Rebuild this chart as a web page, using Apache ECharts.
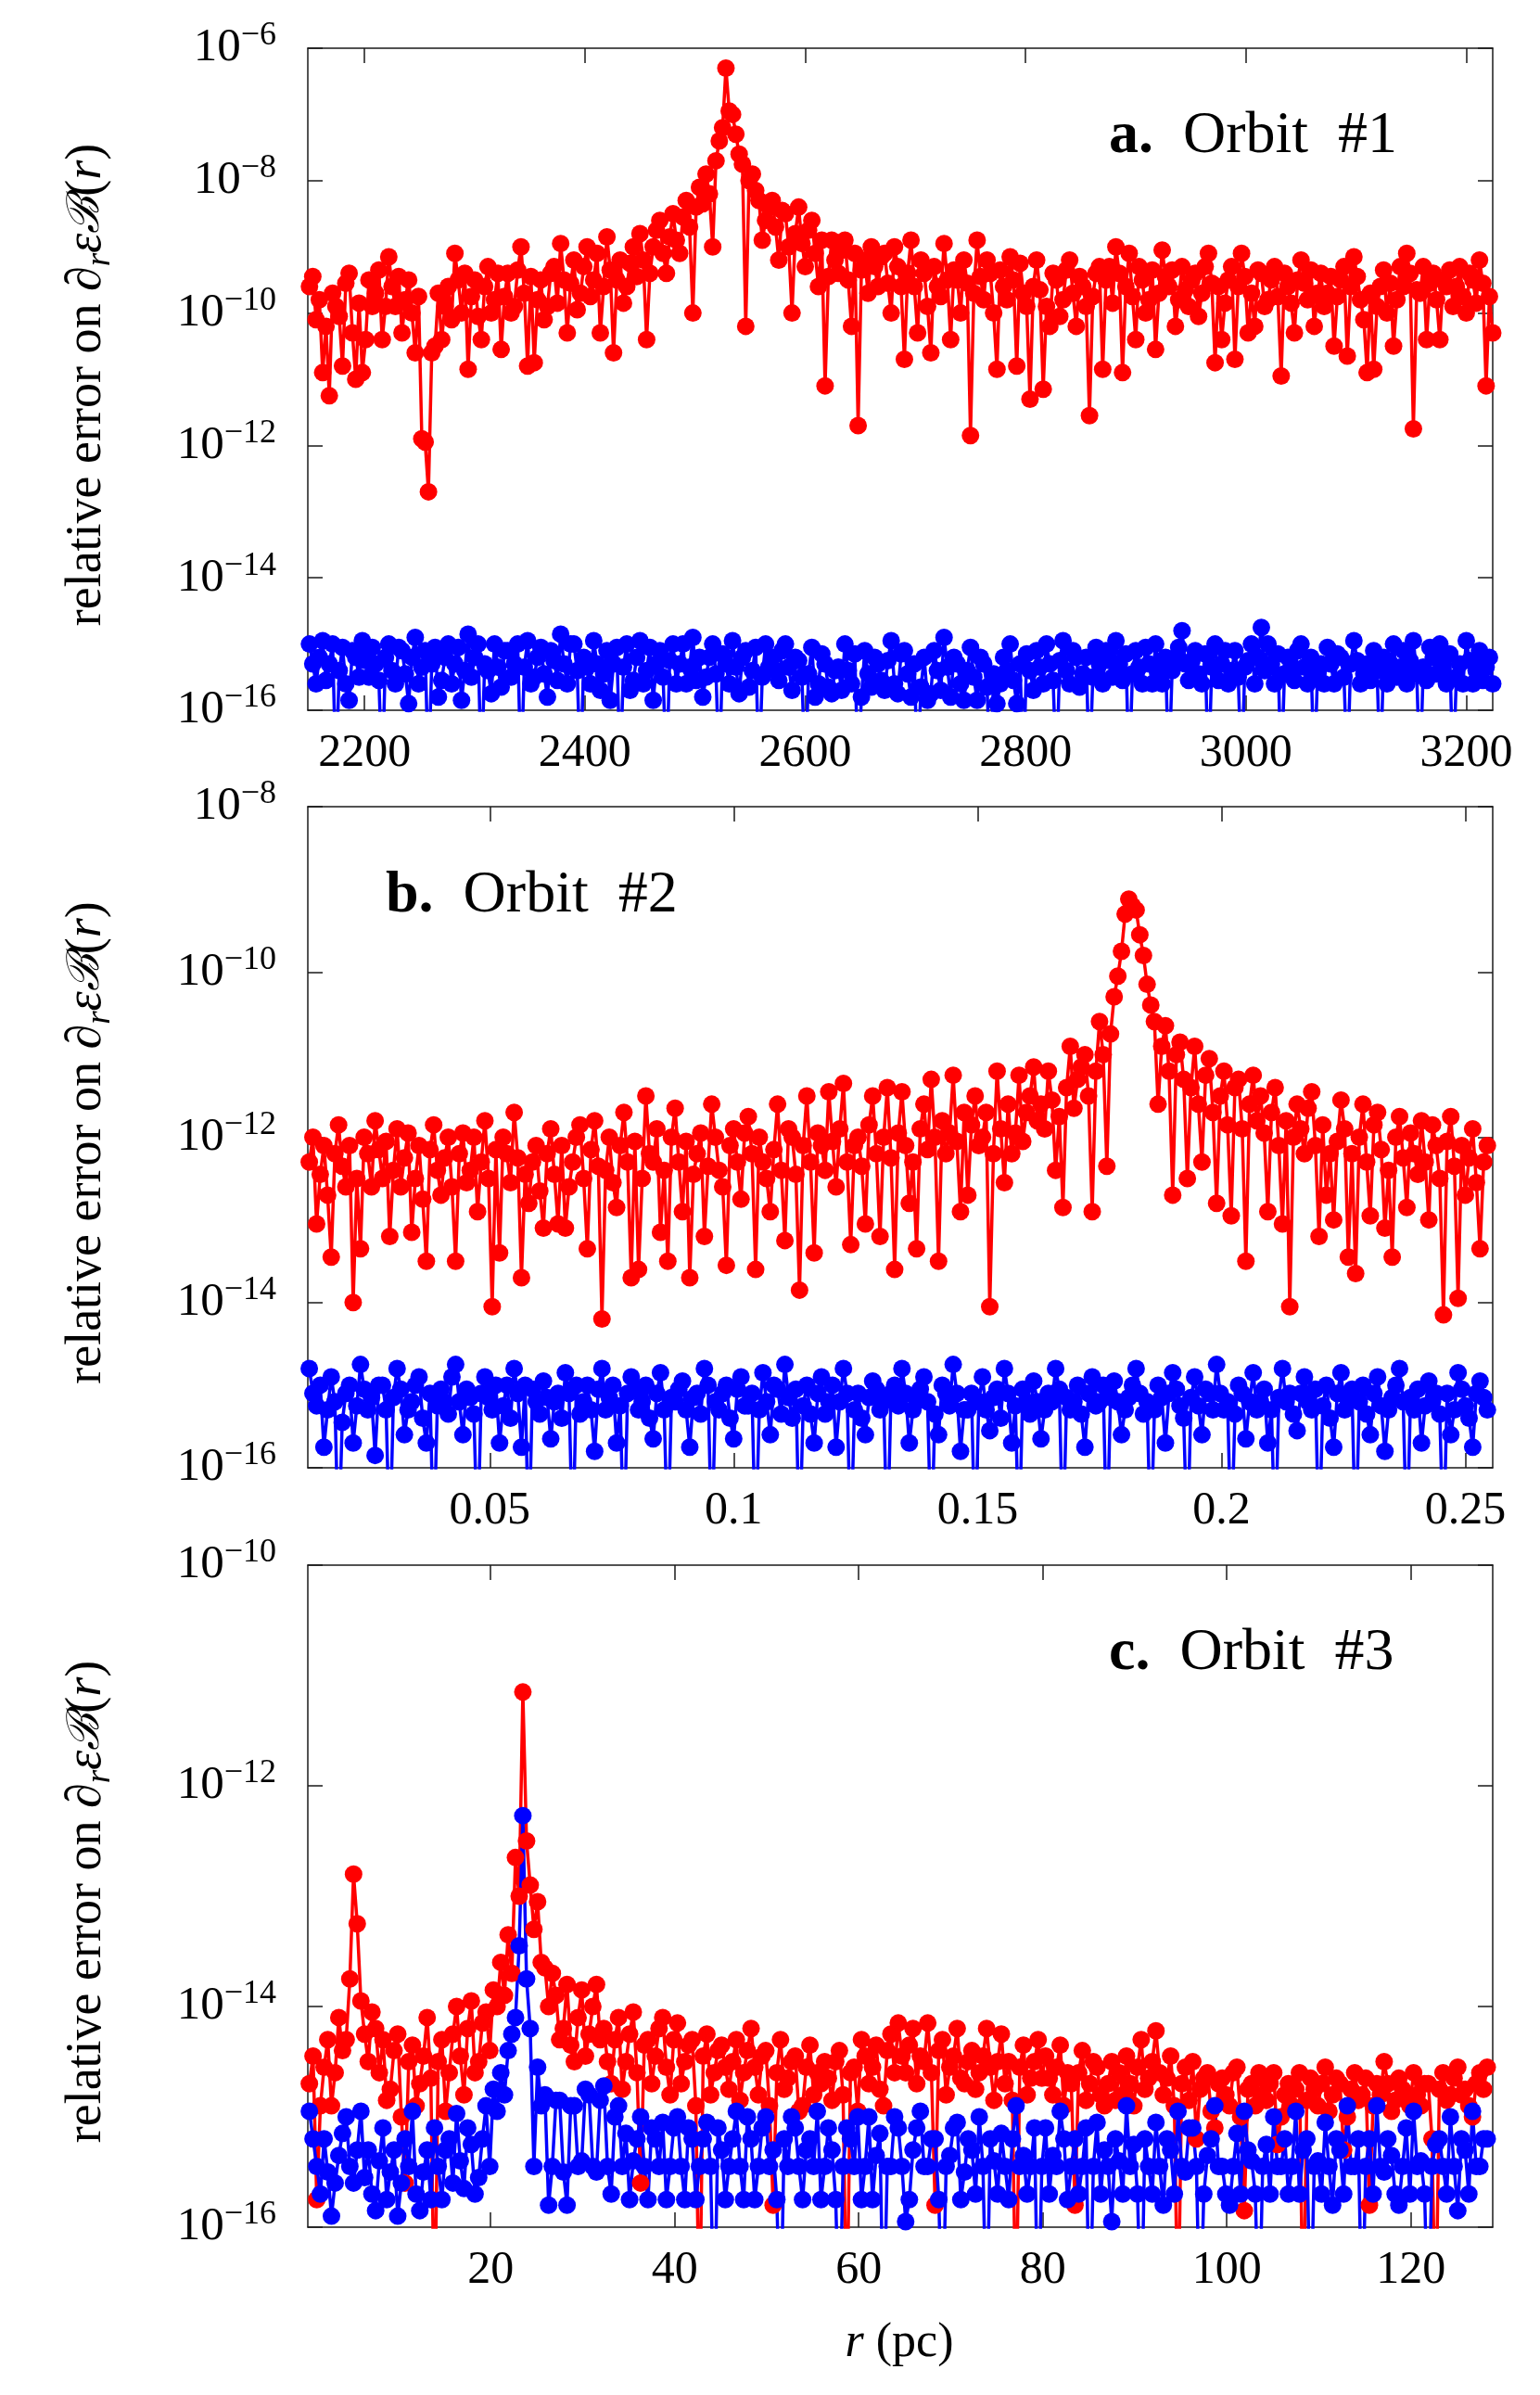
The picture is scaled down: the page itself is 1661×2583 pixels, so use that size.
<!DOCTYPE html>
<html>
<head>
<meta charset="utf-8">
<script src="https://cdn.jsdelivr.net/npm/echarts@6/dist/echarts.min.js"></script>
<style>
  html, body { margin: 0; background: #fff; }
  #chart { width: 1661px; height: 2583px; }
</style>
</head>
<body>
<div id="chart"></div>
<script>
const rA = [
  2150,2153,2156,2159,2162,2165,2168,2171,2174,2177,2180,2183,2186,2189,2192,2195,2198,2201,2204,2207,
  2210,2213,2216,2219,2222,2225,2228,2231,2234,2237,2240,2243,2246,2249,2252,2255,2258,2261,2264,2267,
  2270,2273,2276,2279,2282,2285,2288,2291,2294,2297,2300,2303,2306,2309,2312,2315,2318,2321,2324,2327,
  2330,2333,2336,2339,2342,2345,2348,2351,2354,2357,2360,2363,2366,2369,2372,2375,2378,2381,2384,2387,
  2390,2393,2396,2399,2402,2405,2408,2411,2414,2417,2420,2423,2426,2429,2432,2435,2438,2441,2444,2447,
  2450,2453,2456,2459,2462,2465,2468,2471,2474,2477,2480,2483,2486,2489,2492,2495,2498,2501,2504,2507,
  2510,2513,2516,2519,2522,2525,2528,2531,2534,2537,2540,2543,2546,2549,2552,2555,2558,2561,2564,2567,
  2570,2573,2576,2579,2582,2585,2588,2591,2594,2597,2600,2603,2606,2609,2612,2615,2618,2621,2624,2627,
  2630,2633,2636,2639,2642,2645,2648,2651,2654,2657,2660,2663,2666,2669,2672,2675,2678,2681,2684,2687,
  2690,2693,2696,2699,2702,2705,2708,2711,2714,2717,2720,2723,2726,2729,2732,2735,2738,2741,2744,2747,
  2750,2753,2756,2759,2762,2765,2768,2771,2774,2777,2780,2783,2786,2789,2792,2795,2798,2801,2804,2807,
  2810,2813,2816,2819,2822,2825,2828,2831,2834,2837,2840,2843,2846,2849,2852,2855,2858,2861,2864,2867,
  2870,2873,2876,2879,2882,2885,2888,2891,2894,2897,2900,2903,2906,2909,2912,2915,2918,2921,2924,2927,
  2930,2933,2936,2939,2942,2945,2948,2951,2954,2957,2960,2963,2966,2969,2972,2975,2978,2981,2984,2987,
  2990,2993,2996,2999,3002,3005,3008,3011,3014,3017,3020,3023,3026,3029,3032,3035,3038,3041,3044,3047,
  3050,3053,3056,3059,3062,3065,3068,3071,3074,3077,3080,3083,3086,3089,3092,3095,3098,3101,3104,3107,
  3110,3113,3116,3119,3122,3125,3128,3131,3134,3137,3140,3143,3146,3149,3152,3155,3158,3161,3164,3167,
  3170,3173,3176,3179,3182,3185,3188,3191,3194,3197,3200,3203,3206,3209,3212,3215,3218,3221,3224
];
const redA = [
  -9.6,-9.45,-10.1,-9.8,-10.9,-10.2,-11.25,-9.7,-9.9,-10.05,-10.8,-9.55,-9.4,-10.3,-11.0,-9.85,-10.9,-10.4,-9.5,-9.9,
  -9.7,-9.35,-10.4,-9.9,-9.15,-9.6,-9.9,-9.45,-10.3,-9.8,-9.5,-10.0,-10.6,-9.75,-11.9,-11.95,-12.7,-10.6,-10.5,-9.7,
  -10.4,-9.9,-9.6,-10.1,-9.1,-9.5,-10.0,-9.4,-10.85,-9.75,-9.5,-10.05,-10.4,-9.6,-9.3,-10.0,-9.8,-9.4,-10.55,-9.75,
  -9.4,-10.0,-9.9,-9.35,-9.0,-9.7,-10.8,-9.45,-10.75,-9.8,-9.5,-10.1,-9.9,-9.4,-9.3,-9.85,-8.95,-9.5,-10.3,-9.55,
  -9.2,-9.95,-9.7,-9.3,-9.0,-9.75,-9.5,-9.1,-10.3,-9.6,-8.85,-9.35,-10.6,-9.5,-9.2,-9.85,-9.6,-9.25,-9.0,-9.45,
  -8.8,-9.2,-10.4,-9.4,-9.0,-8.75,-8.6,-9.1,-9.4,-8.85,-8.5,-8.9,-9.1,-8.55,-8.3,-8.7,-10.0,-8.4,-8.1,-8.35,
  -7.9,-8.2,-9.0,-7.7,-7.4,-7.2,-6.3,-6.95,-7.0,-7.3,-7.6,-7.75,-10.2,-8.0,-7.9,-8.15,-8.3,-8.9,-8.6,-8.4,
  -8.3,-8.7,-9.2,-8.45,-8.5,-9.0,-10.0,-8.8,-8.4,-8.95,-9.3,-8.75,-8.6,-9.1,-9.6,-8.9,-11.1,-9.45,-8.9,-9.2,
  -9.4,-9.05,-8.9,-9.5,-10.2,-9.1,-11.7,-9.35,-9.2,-9.7,-9.0,-9.3,-9.6,-9.15,-9.1,-9.55,-10.0,-9.0,-9.3,-9.6,
  -10.7,-9.4,-8.9,-9.6,-10.3,-9.2,-9.4,-9.9,-10.6,-9.3,-9.6,-9.75,-8.95,-9.5,-10.4,-9.35,-9.5,-10.0,-9.2,-9.55,
  -11.85,-9.7,-8.9,-9.45,-9.8,-9.2,-9.4,-10.0,-10.85,-9.35,-9.6,-9.8,-9.15,-9.5,-10.8,-9.25,-9.7,-9.9,-11.3,-9.6,
  -9.2,-9.65,-11.15,-9.9,-10.2,-9.4,-9.5,-10.05,-9.8,-9.35,-9.2,-9.7,-10.2,-9.45,-9.6,-9.9,-11.55,-9.75,-9.4,-9.3,
  -10.85,-9.5,-9.3,-9.85,-9.0,-9.4,-10.9,-9.6,-9.1,-9.75,-10.4,-9.3,-9.5,-10.0,-9.8,-9.35,-10.55,-9.7,-9.05,-9.45,
  -9.6,-9.35,-10.2,-9.8,-9.3,-9.65,-9.9,-9.5,-9.4,-10.05,-9.7,-9.3,-9.1,-9.55,-10.75,-9.6,-10.4,-9.85,-9.5,-9.3,
  -10.7,-9.6,-9.1,-9.45,-10.3,-9.7,-10.2,-9.35,-9.4,-9.9,-9.8,-9.5,-9.3,-9.75,-10.95,-9.4,-9.6,-9.85,-10.3,-9.5,
  -9.2,-9.55,-9.8,-9.35,-10.2,-9.7,-9.4,-9.9,-9.7,-9.45,-10.5,-9.75,-9.5,-9.3,-10.65,-9.6,-9.15,-9.45,-9.8,-10.1,
  -10.9,-9.7,-10.85,-9.9,-9.6,-9.35,-10.0,-9.55,-10.5,-9.8,-9.3,-9.6,-9.1,-9.4,-11.75,-9.65,-9.7,-9.3,-10.4,-9.55,
  -9.4,-9.8,-10.4,-9.5,-9.6,-9.35,-9.9,-9.6,-9.3,-9.75,-10.0,-9.4,-9.5,-9.85,-9.2,-9.55,-11.1,-9.75,-10.3
];
const blueA = [
  -15.0,-15.3,-15.6,-15.2,-14.95,-15.55,-15.3,-15.0,-17,-15.4,-15.05,-15.6,-15.85,-15.1,-15.2,-15.5,-14.95,-15.25,-15.5,-15.05,
  -15.3,-15.55,-17,-15.2,-15.0,-15.4,-15.6,-15.05,-15.1,-15.45,-15.9,-15.2,-14.9,-15.6,-15.35,-15.1,-17,-15.3,-15.05,-15.8,
  -15.55,-15.2,-15.0,-15.6,-15.3,-15.05,-15.85,-15.4,-14.85,-15.5,-15.2,-15.0,-17,-15.3,-15.4,-15.75,-15.0,-15.35,-15.65,-15.1,
  -15.1,-15.5,-15.3,-15.0,-17,-15.35,-14.95,-15.6,-15.5,-15.2,-15.05,-15.45,-15.8,-15.1,-15.25,-15.55,-14.85,-15.3,-15.6,-15.0,
  -15.0,-15.4,-17,-15.2,-15.35,-15.6,-14.95,-15.3,-15.7,-15.45,-15.1,-15.85,-15.3,-15.05,-17,-15.35,-15.0,-15.7,-15.55,-15.2,
  -14.95,-15.6,-15.4,-15.05,-15.85,-15.3,-15.1,-15.5,-17,-15.25,-15.0,-15.6,-15.3,-15.0,-15.6,-15.35,-14.9,-15.55,-15.2,-15.8,
  -15.5,-15.2,-15.0,-15.45,-17,-15.15,-15.3,-15.6,-14.95,-15.35,-15.75,-15.2,-15.1,-15.65,-15.4,-15.05,-17,-15.5,-15.0,-15.35,
  -15.2,-15.4,-15.55,-15.1,-15.0,-15.35,-15.7,-15.2,-15.25,-15.5,-17,-15.45,-15.05,-15.8,-15.6,-15.15,-15.3,-15.65,-15.75,-15.4,
  -15.35,-15.7,-15.0,-15.4,-15.6,-15.15,-17,-15.8,-15.1,-15.45,-15.65,-15.2,-15.3,-15.55,-15.7,-15.25,-14.95,-15.6,-15.75,-15.15,
  -15.1,-15.45,-15.8,-15.3,-17,-15.65,-15.2,-15.85,-15.75,-15.1,-15.4,-15.7,-14.9,-15.35,-15.8,-15.2,-15.3,-15.6,-15.85,-15.4,
  -15.05,-15.5,-15.85,-15.2,-15.3,-15.65,-17,-15.45,-15.9,-15.6,-15.2,-15.4,-15.0,-15.55,-15.9,-15.3,-17,-15.15,-15.4,-15.7,
  -15.1,-15.35,-15.6,-15.0,-15.3,-15.55,-17,-15.25,-14.95,-15.4,-15.6,-15.1,-15.2,-15.65,-15.45,-15.2,-17,-15.5,-15.05,-15.3,
  -15.6,-15.1,-15.25,-15.5,-14.95,-15.3,-15.55,-15.15,-17,-15.45,-15.1,-15.35,-15.6,-15.05,-15.3,-15.6,-15.0,-15.4,-15.6,-15.2,
  -17,-15.4,-15.2,-15.05,-14.8,-15.3,-15.55,-15.25,-15.1,-15.45,-15.6,-15.15,-17,-15.35,-15.0,-15.55,-15.3,-15.1,-15.6,-15.4,
  -15.1,-15.5,-17,-15.35,-15.25,-15.0,-15.6,-15.2,-14.75,-15.4,-15.0,-15.3,-15.6,-15.15,-17,-15.45,-15.2,-15.35,-15.55,-15.1,
  -15.0,-15.35,-15.6,-15.2,-17,-15.45,-15.3,-15.6,-15.05,-15.3,-15.6,-15.15,-15.2,-15.5,-17,-15.3,-14.95,-15.25,-15.6,-15.45,
  -15.3,-15.55,-15.1,-15.4,-17,-15.2,-15.6,-15.3,-15.0,-15.5,-15.35,-15.1,-15.6,-15.25,-14.95,-15.45,-17,-15.35,-15.55,-15.05,
  -15.2,-15.45,-15.0,-15.3,-15.6,-15.15,-17,-15.5,-15.3,-15.6,-14.95,-15.25,-15.6,-15.4,-15.1,-15.55,-15.35,-15.2,-15.6
];

const rB = [
  0.013,0.01375,0.0145,0.01525,0.016,0.01675,0.0175,0.01825,0.019,0.01975,0.0205,0.02125,0.022,0.02275,0.0235,0.02425,0.025,0.02575,0.0265,0.02725,
  0.028,0.02875,0.0295,0.03025,0.031,0.03175,0.0325,0.03325,0.034,0.03475,0.0355,0.03625,0.037,0.03775,0.0385,0.03925,0.04,0.04075,0.0415,0.04225,
  0.043,0.04375,0.0445,0.04525,0.046,0.04675,0.0475,0.04825,0.049,0.04975,0.0505,0.05125,0.052,0.05275,0.0535,0.05425,0.055,0.05575,0.0565,0.05725,
  0.058,0.05875,0.0595,0.06025,0.061,0.06175,0.0625,0.06325,0.064,0.06475,0.0655,0.06625,0.067,0.06775,0.0685,0.06925,0.07,0.07075,0.0715,0.07225,
  0.073,0.07375,0.0745,0.07525,0.076,0.07675,0.0775,0.07825,0.079,0.07975,0.0805,0.08125,0.082,0.08275,0.0835,0.08425,0.085,0.08575,0.0865,0.08725,
  0.088,0.08875,0.0895,0.09025,0.091,0.09175,0.0925,0.09325,0.094,0.09475,0.0955,0.09625,0.097,0.09775,0.0985,0.09925,0.1,0.10075,0.1015,0.10225,
  0.103,0.10375,0.1045,0.10525,0.106,0.10675,0.1075,0.10825,0.109,0.10975,0.1105,0.11125,0.112,0.11275,0.1135,0.11425,0.115,0.11575,0.1165,0.11725,
  0.118,0.11875,0.1195,0.12025,0.121,0.12175,0.1225,0.12325,0.124,0.12475,0.1255,0.12625,0.127,0.12775,0.1285,0.12925,0.13,0.13075,0.1315,0.13225,
  0.133,0.13375,0.1345,0.13525,0.136,0.13675,0.1375,0.13825,0.139,0.13975,0.1405,0.14125,0.142,0.14275,0.1435,0.14425,0.145,0.14575,0.1465,0.14725,
  0.148,0.14875,0.1495,0.15025,0.151,0.15175,0.1525,0.15325,0.154,0.15475,0.1555,0.15625,0.157,0.15775,0.1585,0.15925,0.16,0.16075,0.1615,0.16225,
  0.163,0.16375,0.1645,0.16525,0.166,0.16675,0.1675,0.16825,0.169,0.16975,0.1705,0.17125,0.172,0.17275,0.1735,0.17425,0.175,0.17575,0.1765,0.17725,
  0.178,0.17875,0.1795,0.18025,0.181,0.18175,0.1825,0.18325,0.184,0.18475,0.1855,0.18625,0.187,0.18775,0.1885,0.18925,0.19,0.19075,0.1915,0.19225,
  0.193,0.19375,0.1945,0.19525,0.196,0.19675,0.1975,0.19825,0.199,0.19975,0.2005,0.20125,0.202,0.20275,0.2035,0.20425,0.205,0.20575,0.2065,0.20725,
  0.208,0.20875,0.2095,0.21025,0.211,0.21175,0.2125,0.21325,0.214,0.21475,0.2155,0.21625,0.217,0.21775,0.2185,0.21925,0.22,0.22075,0.2215,0.22225,
  0.223,0.22375,0.2245,0.22525,0.226,0.22675,0.2275,0.22825,0.229,0.22975,0.2305,0.23125,0.232,0.23275,0.2335,0.23425,0.235,0.23575,0.2365,0.23725,
  0.238,0.23875,0.2395,0.24025,0.241,0.24175,0.2425,0.24325,0.244,0.24475,0.2455,0.24625,0.247,0.24775,0.2485,0.24925,0.25,0.25075,0.2515,0.25225,
  0.253,0.25375,0.2545
];
const redB = [
  -12.3,-12.0,-13.05,-12.45,-12.1,-12.7,-13.45,-12.2,-11.85,-12.35,-12.6,-12.1,-14.0,-12.5,-13.35,-12.0,-12.2,-12.6,-11.8,-12.15,
  -12.5,-12.05,-13.2,-12.4,-11.9,-12.6,-12.25,-11.95,-13.15,-12.5,-12.1,-12.75,-13.5,-12.15,-11.85,-12.4,-12.7,-12.25,-12.0,-12.6,
  -13.5,-12.2,-11.95,-12.55,-12.4,-12.0,-12.9,-12.3,-11.8,-12.5,-14.05,-12.15,-13.4,-12.0,-12.2,-12.55,-11.7,-12.25,-13.7,-12.45,
  -12.8,-12.3,-12.1,-12.65,-13.1,-12.2,-11.9,-12.45,-13.05,-12.1,-13.1,-12.6,-12.3,-12.0,-11.85,-12.5,-13.35,-12.15,-11.8,-12.35,
  -14.2,-12.4,-12.0,-12.55,-12.85,-12.1,-11.7,-12.3,-13.7,-12.05,-13.6,-12.5,-11.5,-12.2,-12.3,-11.9,-13.15,-12.4,-13.5,-12.0,
  -11.65,-12.3,-12.9,-12.05,-13.7,-12.45,-12.2,-11.95,-13.2,-12.35,-11.6,-12.0,-12.4,-12.6,-13.55,-12.1,-11.9,-12.3,-12.75,-11.95,
  -11.75,-12.2,-13.6,-12.0,-12.3,-12.5,-12.9,-12.15,-11.6,-12.4,-13.25,-11.9,-12.0,-12.45,-13.85,-12.1,-11.5,-12.3,-13.4,-11.95,
  -12.1,-12.4,-11.45,-12.05,-12.6,-11.9,-11.35,-12.3,-13.3,-12.1,-12.0,-12.35,-13.05,-11.85,-11.5,-12.2,-13.2,-12.0,-11.4,-12.25,
  -13.6,-11.95,-11.45,-12.1,-12.8,-12.3,-13.35,-11.9,-11.6,-12.15,-11.3,-12.0,-13.5,-11.8,-12.2,-11.95,-11.25,-12.05,-12.9,-11.7,
  -12.7,-11.85,-11.5,-12.1,-12.0,-11.7,-14.05,-12.2,-11.2,-11.9,-12.55,-11.6,-12.2,-11.95,-11.25,-12.05,-11.7,-11.5,-11.15,-11.8,
  -11.6,-11.9,-11.2,-11.55,-12.4,-11.75,-12.85,-11.4,-10.9,-11.65,-11.3,-11.15,-11.0,-11.5,-12.9,-11.2,-10.6,-11.0,-12.35,-10.75,
  -10.3,-10.05,-9.75,-9.3,-9.12,-9.2,-9.25,-9.55,-9.8,-10.15,-10.4,-10.6,-11.6,-10.9,-10.65,-11.2,-12.7,-11.0,-10.85,-11.3,
  -12.5,-11.4,-10.9,-11.6,-12.3,-11.25,-11.05,-11.7,-12.8,-11.5,-11.2,-11.85,-12.95,-11.4,-11.3,-11.9,-13.5,-11.6,-11.25,-11.8,
  -11.5,-11.95,-12.9,-11.7,-11.4,-12.1,-13.05,-11.8,-14.05,-12.0,-11.6,-11.9,-12.2,-11.65,-11.45,-12.1,-13.2,-11.85,-12.7,-12.2,
  -13.0,-12.05,-11.55,-11.9,-13.45,-12.2,-13.65,-12.0,-11.6,-12.3,-12.95,-11.85,-11.7,-12.15,-13.1,-12.4,-13.45,-12.0,-11.75,-12.25,
  -12.85,-11.95,-12.2,-12.45,-11.8,-12.3,-13.0,-11.85,-12.1,-12.5,-14.15,-12.05,-11.75,-12.35,-13.95,-12.1,-12.7,-12.25,-11.9,-12.55,
  -13.35,-12.3,-12.1
];
const blueB = [
  -14.8,-15.1,-15.25,-15.0,-15.75,-15.3,-14.9,-15.2,-17,-15.45,-15.1,-15.0,-15.7,-15.25,-14.75,-15.05,-15.3,-15.15,-15.85,-15.0,
  -15.0,-15.3,-17,-15.15,-14.8,-15.05,-15.6,-15.3,-15.2,-15.0,-14.9,-15.4,-15.7,-15.1,-17,-15.25,-15.05,-15.2,-15.35,-14.9,
  -14.75,-15.2,-15.6,-15.05,-15.15,-15.35,-17,-15.1,-14.9,-15.15,-15.3,-15.0,-15.7,-15.25,-15.0,-15.4,-14.8,-15.1,-15.75,-15.0,
  -17,-15.05,-15.2,-15.35,-14.95,-15.15,-15.65,-15.2,-15.1,-15.4,-14.85,-15.1,-17,-15.0,-15.35,-15.2,-15.0,-15.3,-15.8,-15.05,
  -14.8,-15.3,-15.15,-15.0,-15.7,-15.25,-17,-15.1,-14.9,-15.05,-15.3,-15.2,-15.0,-15.4,-15.65,-15.1,-14.85,-15.3,-17,-15.15,
  -15.2,-15.05,-14.95,-15.3,-15.75,-15.15,-15.1,-15.35,-14.8,-15.0,-17,-15.2,-15.3,-15.1,-15.0,-15.4,-15.65,-15.05,-14.9,-15.25,
  -15.25,-15.1,-17,-15.3,-14.85,-15.2,-15.6,-15.0,-15.05,-15.35,-14.75,-15.15,-15.4,-15.05,-17,-15.25,-15.0,-15.35,-15.7,-15.1,
  -14.9,-15.35,-15.2,-15.0,-15.75,-15.2,-14.8,-15.1,-17,-15.3,-15.1,-15.4,-15.6,-15.15,-14.95,-15.05,-15.3,-15.2,-17,-15.1,
  -15.0,-15.25,-14.8,-15.1,-15.7,-15.3,-15.2,-15.05,-14.9,-15.2,-17,-15.35,-15.6,-15.0,-15.1,-15.25,-14.75,-15.1,-15.8,-15.3,
  -15.3,-15.1,-17,-15.2,-14.9,-15.3,-15.55,-15.15,-15.05,-15.4,-14.8,-15.1,-15.7,-15.25,-17,-15.05,-15.2,-15.35,-14.95,-15.2,
  -15.65,-15.3,-15.1,-15.2,-14.8,-15.05,-17,-15.15,-15.3,-15.2,-15.0,-15.35,-15.75,-15.1,-14.9,-15.25,-15.2,-15.0,-17,-15.15,
  -14.95,-15.2,-15.6,-15.3,-15.15,-15.0,-14.8,-15.1,-15.35,-15.2,-17,-15.3,-15.0,-15.15,-15.7,-15.1,-14.85,-15.05,-15.25,-15.4,
  -17,-15.15,-14.9,-15.25,-15.6,-15.05,-15.1,-15.3,-14.75,-15.1,-15.3,-15.2,-17,-15.35,-15.0,-15.1,-15.65,-15.2,-14.85,-15.3,
  -15.2,-15.05,-15.7,-15.3,-17,-15.15,-14.8,-15.2,-15.1,-15.35,-15.55,-15.1,-14.9,-15.2,-15.3,-15.05,-17,-15.25,-15.0,-15.4,
  -15.75,-15.1,-14.85,-15.3,-15.2,-15.05,-17,-15.2,-15.0,-15.35,-15.6,-15.1,-14.9,-15.25,-15.8,-15.3,-15.15,-15.0,-14.8,-15.2,
  -17,-15.15,-15.3,-15.05,-15.7,-15.25,-14.95,-15.2,-15.1,-15.35,-17,-15.1,-15.6,-15.3,-14.85,-15.05,-15.25,-15.4,-15.75,-15.1,
  -14.95,-15.15,-15.3
];

const rC = [
  0.3,0.7,1.1,1.5,1.9,2.3,2.7,3.1,3.5,3.9,4.3,4.7,5.1,5.5,5.9,6.3,6.7,7.1,7.5,7.9,
  8.3,8.7,9.1,9.5,9.9,10.3,10.7,11.1,11.5,11.9,12.3,12.7,13.1,13.5,13.9,14.3,14.7,15.1,15.5,15.9,
  16.3,16.7,17.1,17.5,17.9,18.3,18.7,19.1,19.5,19.9,20.3,20.7,21.1,21.5,21.9,22.3,22.7,23.1,23.5,23.9,
  24.3,24.7,25.1,25.5,25.9,26.3,26.7,27.1,27.5,27.9,28.3,28.7,29.1,29.5,29.9,30.3,30.7,31.1,31.5,31.9,
  32.3,32.7,33.1,33.5,33.9,34.3,34.7,35.1,35.5,35.9,36.3,36.7,37.1,37.5,37.9,38.3,38.7,39.1,39.5,39.9,
  40.3,40.7,41.1,41.5,41.9,42.3,42.7,43.1,43.5,43.9,44.3,44.7,45.1,45.5,45.9,46.3,46.7,47.1,47.5,47.9,
  48.3,48.7,49.1,49.5,49.9,50.3,50.7,51.1,51.5,51.9,52.3,52.7,53.1,53.5,53.9,54.3,54.7,55.1,55.5,55.9,
  56.3,56.7,57.1,57.5,57.9,58.3,58.7,59.1,59.5,59.9,60.3,60.7,61.1,61.5,61.9,62.3,62.7,63.1,63.5,63.9,
  64.3,64.7,65.1,65.5,65.9,66.3,66.7,67.1,67.5,67.9,68.3,68.7,69.1,69.5,69.9,70.3,70.7,71.1,71.5,71.9,
  72.3,72.7,73.1,73.5,73.9,74.3,74.7,75.1,75.5,75.9,76.3,76.7,77.1,77.5,77.9,78.3,78.7,79.1,79.5,79.9,
  80.3,80.7,81.1,81.5,81.9,82.3,82.7,83.1,83.5,83.9,84.3,84.7,85.1,85.5,85.9,86.3,86.7,87.1,87.5,87.9,
  88.3,88.7,89.1,89.5,89.9,90.3,90.7,91.1,91.5,91.9,92.3,92.7,93.1,93.5,93.9,94.3,94.7,95.1,95.5,95.9,
  96.3,96.7,97.1,97.5,97.9,98.3,98.7,99.1,99.5,99.9,100.3,100.7,101.1,101.5,101.9,102.3,102.7,103.1,103.5,103.9,
  104.3,104.7,105.1,105.5,105.9,106.3,106.7,107.1,107.5,107.9,108.3,108.7,109.1,109.5,109.9,110.3,110.7,111.1,111.5,111.9,
  112.3,112.7,113.1,113.5,113.9,114.3,114.7,115.1,115.5,115.9,116.3,116.7,117.1,117.5,117.9,118.3,118.7,119.1,119.5,119.9,
  120.3,120.7,121.1,121.5,121.9,122.3,122.7,123.1,123.5,123.9,124.3,124.7,125.1,125.5,125.9,126.3,126.7,127.1,127.5,127.9,
  128.3
];
const redC = [
  -14.7,-14.45,-15.75,-14.9,-14.55,-14.3,-14.9,-14.6,-14.1,-14.4,-14.3,-13.75,-12.8,-13.25,-13.95,-14.25,-14.5,-14.05,-14.2,-14.6,
  -14.3,-14.85,-14.75,-14.4,-14.25,-15.0,-15.6,-14.5,-14.35,-14.9,-14.7,-14.45,-14.1,-14.65,-17,-14.5,-14.3,-14.95,-14.6,-14.25,
  -14.0,-14.45,-14.8,-14.2,-13.95,-14.6,-14.5,-14.15,-14.05,-14.4,-13.85,-14.0,-13.6,-13.9,-13.35,-13.7,-12.65,-13.0,-11.15,-12.5,
  -12.9,-13.3,-13.05,-13.6,-13.65,-14.0,-13.7,-13.9,-14.3,-14.2,-13.8,-14.35,-14.5,-14.1,-13.85,-14.45,-14.25,-14.0,-13.8,-14.3,
  -14.2,-14.5,-14.7,-14.3,-14.1,-14.75,-14.5,-14.25,-14.05,-14.6,-15.6,-14.35,-14.3,-14.7,-14.45,-14.2,-14.1,-14.55,-14.8,-14.3,
  -14.15,-14.7,-14.5,-14.35,-14.3,-14.9,-17,-14.45,-14.25,-14.8,-14.6,-14.4,-14.35,-14.55,-14.75,-14.5,-14.3,-14.85,-14.6,-14.4,
  -14.2,-14.55,-14.8,-14.45,-14.4,-14.9,-15.8,-14.6,-14.3,-14.75,-14.65,-14.5,-14.45,-14.95,-14.9,-14.55,-14.35,-14.8,-14.6,-14.7,
  -14.5,-14.65,-14.85,-14.5,-14.4,-14.8,-17,-14.6,-14.55,-14.95,-14.3,-14.45,-14.7,-14.55,-14.35,-14.75,-14.9,-14.4,-14.25,-14.6,
  -14.15,-14.45,-14.6,-14.35,-14.2,-14.7,-14.45,-14.5,-14.15,-14.6,-15.8,-14.4,-14.3,-14.8,-14.55,-14.45,-14.2,-14.65,-14.7,-14.5,
  -14.4,-14.75,-14.6,-14.45,-14.2,-14.55,-14.85,-14.5,-14.25,-14.7,-14.5,-14.85,-17,-14.55,-14.35,-14.8,-14.65,-14.5,-14.3,-14.65,
  -14.45,-14.65,-14.8,-14.55,-14.35,-14.9,-14.6,-14.7,-15.8,-14.6,-14.4,-14.85,-14.7,-14.5,-14.55,-14.8,-14.9,-14.7,-14.5,-14.85,
  -14.6,-14.8,-14.45,-14.7,-14.9,-14.55,-14.3,-14.75,-14.65,-14.5,-14.22,-14.6,-14.8,-14.65,-14.45,-14.9,-17,-14.7,-14.55,-14.85,
  -14.5,-15.2,-14.75,-14.65,-14.6,-14.95,-15.1,-14.7,-14.65,-14.8,-14.9,-14.6,-14.55,-15.0,-15.85,-14.75,-14.7,-14.9,-14.6,-14.8,
  -14.85,-14.7,-14.6,-15.25,-15.0,-14.8,-14.7,-14.9,-14.75,-14.6,-17,-14.85,-14.65,-14.75,-14.9,-14.7,-14.55,-14.95,-14.8,-14.65,
  -14.7,-15.3,-15.0,-14.75,-14.6,-14.85,-14.8,-14.65,-15.8,-14.9,-14.7,-14.8,-14.5,-14.7,-14.95,-14.85,-14.65,-14.75,-14.85,-14.9,
  -14.6,-14.8,-14.9,-14.7,-14.7,-15.2,-17,-14.75,-14.6,-14.85,-14.8,-14.65,-14.55,-14.8,-14.75,-14.9,-15.0,-14.7,-14.6,-14.75,
  -14.55
];
const blueC = [
  -14.95,-15.2,-15.45,-15.7,-15.2,-15.5,-15.9,-15.6,-15.35,-15.15,-15.0,-15.45,-15.6,-15.3,-14.95,-15.55,-15.3,-15.7,-15.85,-15.4,
  -15.1,-15.75,-15.5,-15.3,-15.9,-15.6,-15.2,-15.45,-14.95,-15.7,-15.85,-15.5,-15.3,-15.75,-15.1,-15.45,-15.75,-15.3,-15.2,-15.6,
  -14.97,-15.4,-15.65,-15.1,-15.25,-15.7,-15.55,-15.2,-14.9,-15.45,-14.75,-14.95,-14.6,-14.8,-14.4,-14.25,-14.1,-13.45,-12.27,-13.75,
  -14.2,-15.45,-14.55,-14.9,-14.8,-15.8,-15.45,-14.85,-14.85,-15.5,-15.8,-14.9,-14.9,-15.45,-15.4,-14.75,-14.8,-15.45,-15.5,-14.85,
  -14.72,-15.45,-15.7,-15.0,-14.9,-15.45,-15.15,-15.75,-15.4,-15.2,-15.0,-15.45,-15.75,-15.1,-15.2,-15.45,-15.05,-15.75,-15.45,-15.1,
  -15.0,-15.45,-15.75,-15.1,-15.2,-15.75,-15.45,-15.2,-15.05,-15.45,-17,-15.1,-15.3,-15.75,-15.45,-15.2,-14.95,-15.45,-15.75,-15.0,
  -15.2,-15.75,-15.45,-15.1,-15.0,-15.45,-15.3,-15.75,-17,-15.2,-15.45,-15.0,-15.1,-15.45,-15.75,-15.3,-15.2,-15.45,-14.95,-15.75,
  -15.45,-15.1,-15.3,-15.75,-17,-15.45,-15.1,-15.2,-15.45,-15.0,-15.75,-15.45,-15.0,-15.75,-15.35,-15.15,-17,-15.45,-15.45,-15.0,
  -15.1,-15.45,-15.95,-15.75,-15.3,-15.1,-14.95,-15.45,-15.45,-15.2,-15.2,-15.75,-17,-15.45,-15.35,-15.1,-15.05,-15.75,-15.5,-15.2,
  -15.3,-15.7,-15.0,-15.45,-17,-15.2,-15.4,-15.7,-15.15,-15.45,-15.75,-15.2,-14.9,-15.45,-15.35,-15.7,-15.45,-15.1,-17,-15.45,
  -15.1,-15.7,-15.35,-15.45,-14.95,-15.2,-15.75,-15.45,-15.2,-15.7,-15.45,-15.1,-17,-15.45,-15.05,-15.7,-15.3,-15.45,-15.95,-15.2,
  -15.4,-15.7,-14.9,-15.45,-15.25,-15.7,-17,-15.2,-15.45,-15.7,-15.05,-15.45,-15.8,-15.2,-15.3,-15.7,-14.95,-15.45,-15.5,-15.1,
  -15.1,-15.45,-17,-15.7,-15.35,-15.2,-14.9,-15.45,-15.45,-15.7,-15.8,-15.45,-15.15,-15.7,-14.95,-15.3,-15.4,-15.7,-17,-15.45,
  -15.25,-15.7,-15.0,-15.45,-15.45,-15.2,-15.7,-15.45,-14.95,-15.7,-15.3,-15.2,-17,-15.45,-15.4,-15.7,-15.05,-15.45,-15.8,-15.2,
  -15.3,-15.7,-14.9,-15.45,-15.45,-15.2,-17,-15.45,-15.2,-15.7,-14.9,-15.45,-15.5,-15.2,-15.35,-15.7,-15.8,-15.45,-15.1,-15.7,
  -14.95,-15.45,-15.4,-15.7,-17,-15.45,-15.25,-15.2,-15.45,-15.7,-15.0,-15.45,-15.85,-15.2,-15.3,-15.7,-14.95,-15.45,-15.45,-15.2,
  -15.2
];

const ticksA = [2200, 2400, 2600, 2800, 3000, 3200];
const ticksB = [0.05, 0.1, 0.15, 0.2, 0.25];
const ticksC = [20, 40, 60, 80, 100, 120];
const panelNames = ['a.', 'b.', 'c.'];
const orbitNames = ['Orbit  #1', 'Orbit  #2', 'Orbit  #3'];

const SERIF = '"Liberation Serif", "DejaVu Serif", serif';
const INK = '#1a1a1a';
const RED = '#ff0000';
const BLUE = '#0000ff';

const panels = [
  { top: 52, height: 714, xMin: 2148.5, xMax: 3224, xTicks: ticksA, yMin: 1e-16, yMax: 1e-6,
    r: rA, red: redA, blue: blueA, label: [1196, 147] },
  { top: 870, height: 713, xMin: 0.0127, xMax: 0.2556, xTicks: ticksB, yMin: 1e-16, yMax: 1e-8,
    r: rB, red: redB, blue: blueB, label: [416, 966] },
  { top: 1688, height: 714, xMin: 0.13, xMax: 128.9, xTicks: ticksC, yMin: 1e-16, yMax: 1e-10,
    r: rC, red: redC, blue: blueC, label: [1196, 1783] }
];

panels.forEach((p, k) => {
  if (p.r.length !== p.red.length || p.r.length !== p.blue.length) {
    throw new Error('panel ' + k + ' length mismatch: ' + [p.r.length, p.red.length, p.blue.length].join('/'));
  }
});

function pairs(xs, logs) {
  return xs.map((x, k) => [x, Math.pow(10, logs[k])]);
}

function expLabel(v) {
  const e = Math.round(Math.log10(v));
  return '{b|10}{e|\u2212' + Math.abs(e) + '}';
}

const lineStyle = { color: INK, width: 1.5 };

function xAxes(p, k) {
  const base = {
    type: 'value', gridIndex: k, min: p.xMin, max: p.xMax,
    axisLine: { show: true, onZero: false, lineStyle },
    axisTick: { inside: true, length: 16, customValues: p.xTicks, lineStyle },
    splitLine: { show: false }
  };
  return [
    { ...base, position: 'bottom',
      axisLabel: { customValues: p.xTicks, margin: 22, fontFamily: SERIF, fontSize: 50, color: '#000',
                   formatter: v => String(v) } },
    { ...base, position: 'top', axisLabel: { show: false, customValues: p.xTicks } }
  ];
}

function yAxes(p, k) {
  const base = {
    type: 'log', logBase: 10, gridIndex: k, min: p.yMin, max: p.yMax, interval: 2,
    axisLine: { show: true, onZero: false, lineStyle },
    axisTick: { inside: true, length: 16, lineStyle },
    splitLine: { show: false }, minorTick: { show: false }
  };
  return [
    { ...base, position: 'left',
      axisLabel: {
        margin: 34, color: '#000', formatter: expLabel,
        rich: {
          b: { fontFamily: SERIF, fontSize: 51, lineHeight: 62, color: '#000' },
          e: { fontFamily: SERIF, fontSize: 36, lineHeight: 30, verticalAlign: 'top', color: '#000' }
        }
      } },
    { ...base, position: 'right', axisLabel: { show: false } }
  ];
}

function seriesFor(p, k) {
  const common = {
    type: 'line', xAxisIndex: 2 * k, yAxisIndex: 2 * k, symbol: 'circle', symbolSize: 19,
    clip: true, silent: true, animation: false
  };
  return [
    { ...common, data: pairs(p.r, p.red), itemStyle: { color: RED }, lineStyle: { color: RED, width: 3.5 } },
    { ...common, data: pairs(p.r, p.blue), itemStyle: { color: BLUE }, lineStyle: { color: BLUE, width: 3.5 } }
  ];
}

const titleRich = {
  t: { fontFamily: SERIF, fontSize: 54, lineHeight: 66, color: '#000' },
  m: { fontFamily: SERIF, fontSize: 54, fontStyle: 'italic', lineHeight: 66, color: '#000' },
  s: { fontFamily: SERIF, fontSize: 37, fontStyle: 'italic', lineHeight: 42, verticalAlign: 'bottom', color: '#000' },
  c: { fontFamily: '"DejaVu Serif", serif', fontSize: 48, fontStyle: 'italic', lineHeight: 66, color: '#000' }
};
const yTitle = '{t|relative error on }{m|\u2202}{s|r}{m|\u03b5}{c|\u212c}{t|(}{m|r}{t|)}';

const labelRich = {
  b: { fontFamily: SERIF, fontSize: 64, fontWeight: 'bold', color: '#000' },
  n: { fontFamily: SERIF, fontSize: 64, color: '#000' }
};

const graphic = [];
panels.forEach((p, k) => {
  graphic.push({
    type: 'text', x: 94, y: p.top + p.height / 2 + 6, rotation: Math.PI / 2, silent: true,
    style: { text: yTitle, rich: titleRich, align: 'center', verticalAlign: 'middle' }
  });
  graphic.push({
    type: 'text', x: p.label[0], y: p.label[1], silent: true,
    style: { text: '{b|' + panelNames[k] + '}{n|  ' + orbitNames[k] + '}', rich: labelRich,
             align: 'left', verticalAlign: 'middle' }
  });
});
graphic.push({
  type: 'text', x: 970, y: 2527, silent: true,
  style: {
    text: '{i|r}{n| (pc)}', align: 'center', verticalAlign: 'middle',
    rich: {
      i: { fontFamily: SERIF, fontSize: 52, fontStyle: 'italic', color: '#000' },
      n: { fontFamily: SERIF, fontSize: 52, color: '#000' }
    }
  }
});

const chart = echarts.init(document.getElementById('chart'), null, { renderer: 'canvas' });
chart.setOption({
  animation: false,
  backgroundColor: '#ffffff',
  grid: panels.map(p => ({ left: 332, right: 51, top: p.top, height: p.height })),
  xAxis: panels.flatMap(xAxes),
  yAxis: panels.flatMap(yAxes),
  series: panels.flatMap(seriesFor),
  graphic
});
</script>
</body>
</html>
